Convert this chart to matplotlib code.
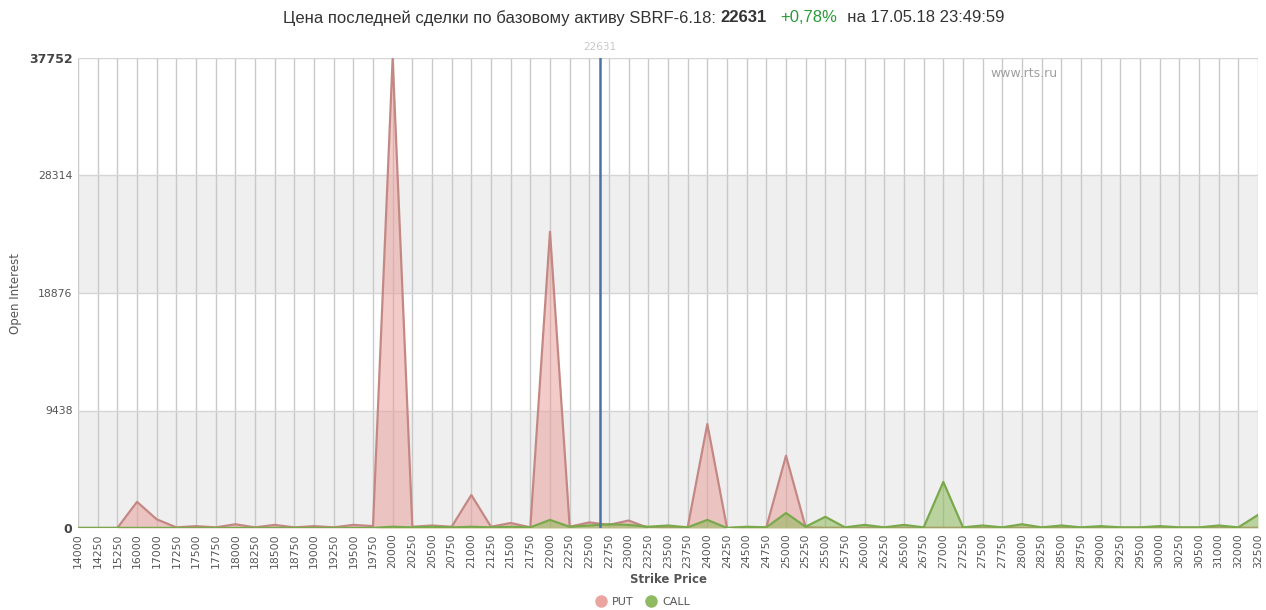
import numpy as np
import matplotlib.pyplot as plt
from matplotlib.lines import Line2D

# strike prices (categories) and open interest
strikes = ['14000', '14250', '15250', '16000', '17000', '17250', '17500', '17750', '18000', '18250',
           '18500', '18750', '19000', '19250', '19500', '19750', '20000', '20250', '20500', '20750',
           '21000', '21250', '21500', '21750', '22000', '22250', '22500', '22750', '23000', '23250',
           '23500', '23750', '24000', '24250', '24500', '24750', '25000', '25250', '25500', '25750',
           '26000', '26250', '26500', '26750', '27000', '27250', '27500', '27750', '28000', '28250',
           '28500', '28750', '29000', '29250', '29500', '30000', '30250', '30500', '31000', '32000',
           '32500']

put_oi = [0, 0, 0, 2100, 700, 50, 150, 50, 300, 50,
          250, 50, 150, 50, 250, 150, 37752, 100, 200, 100,
          2650, 100, 400, 50, 23800, 100, 450, 250, 600, 0,
          50, 50, 8350, 0, 50, 50, 5800, 50, 20, 20,
          20, 20, 20, 20, 20, 20, 20, 20, 20, 20,
          20, 20, 20, 20, 20, 20, 20, 20, 20, 20,
          20]

call_oi = [10, 10, 10, 10, 10, 10, 10, 10, 10, 10,
           10, 10, 10, 10, 10, 10, 100, 50, 100, 50,
           100, 50, 100, 50, 650, 100, 200, 300, 250, 100,
           200, 50, 650, 0, 100, 50, 1200, 100, 900, 50,
           250, 50, 250, 50, 3700, 50, 200, 50, 300, 50,
           200, 50, 150, 50, 50, 150, 50, 50, 200, 50,
           1050]

y_ticks = [0, 9438, 18876, 28314, 37752]
last_price = 22631
price_strike_lo, price_strike_hi = '22500', '22750'

W, H = 1266, 610
fig = plt.figure(figsize=(W / 100, H / 100), dpi=100)
ax = fig.add_axes([78 / W, 1 - 528 / H, (1258 - 78) / W, (528 - 58) / H])

x = np.arange(len(strikes))
ymax = y_ticks[-1]

# alternating bands
for i in range(len(y_ticks) - 1):
    if i % 2 == 0:
        ax.axhspan(y_ticks[i], y_ticks[i + 1], color='#efefef', zorder=0, lw=0)

# grid
for xi in x:
    ax.axvline(xi, color='#c9c9c9', lw=1.0, zorder=1)
for yt in y_ticks:
    ax.axhline(yt, color='#d5d5d5', lw=1.0, zorder=1)

# areas
ax.fill_between(x, put_oi, color='#e99a95', alpha=0.5, lw=0, zorder=2)
ax.plot(x, put_oi, color='#c48884', lw=1.6, zorder=3)
ax.fill_between(x, call_oi, color='#86b84e', alpha=0.5, lw=0, zorder=4)
ax.plot(x, call_oi, color='#7aa94c', lw=1.6, zorder=5)

# last price marker line
i_lo = strikes.index(price_strike_lo)
frac = (last_price - int(price_strike_lo)) / (int(price_strike_hi) - int(price_strike_lo))
xp = i_lo + frac
ax.axvline(xp, color='#4a72a8', lw=1.8, zorder=6)
ax.text(xp, ymax * 1.012, str(last_price), color='#c8c8c8', fontsize=7.5,
        ha='center', va='bottom', family='DejaVu Sans')

ax.set_xlim(0, len(strikes) - 1)
ax.set_ylim(0, ymax)
for s in ax.spines.values():
    s.set_visible(False)

ax.set_xticks(x)
ax.set_xticklabels(strikes, rotation=90, fontsize=7.8, color='#555555')
ax.set_yticks(y_ticks)
ax.set_yticklabels([str(v) for v in y_ticks], fontsize=7.8, color='#555555')
for lbl in (ax.get_yticklabels()[0], ax.get_yticklabels()[-1]):
    lbl.set_fontweight('bold')
    lbl.set_fontsize(9)
    lbl.set_color('#444444')
ax.tick_params(axis='both', length=0, pad=4)

ax.set_xlabel('Strike Price', fontsize=8.5, fontweight='bold', color='#555555', labelpad=3)
ax.set_ylabel('Open Interest', fontsize=8.5, color='#555555')
ax.yaxis.set_label_coords((22 - 78) / (1258 - 78), 0.5)

ax.text((1058 - 78) / (1258 - 78), 0.98, 'www.rts.ru', transform=ax.transAxes, fontsize=9,
        color='#a0a0a0', ha='right', va='top')

# legend
handles = [Line2D([], [], marker='o', ls='', color='#eba5a0', markersize=8),
           Line2D([], [], marker='o', ls='', color='#8fba62', markersize=8)]
fig.legend(handles, ['PUT', 'CALL'], loc='center', bbox_to_anchor=(640 / W, 1 - 602 / H),
           ncol=2, frameon=False, fontsize=8, handletextpad=0.0, columnspacing=0.6,
           labelcolor='#555555')

# title composed of pieces
pieces = [('Цена последней сделки по базовому активу SBRF-6.18: ', '#333333', 'normal'),
          ('22631', '#333333', 'bold'),
          ('   ', '#333333', 'normal'),
          ('+0,78%', '#2a9a3a', 'normal'),
          ('  на 17.05.18 23:49:59', '#333333', 'normal')]
renderer = fig.canvas.get_renderer()
xpos = 283
for txt, col, wt in pieces:
    t = fig.text(xpos / W, 1 - 18 / H, txt, color=col, fontweight=wt, fontsize=12,
                 family='Liberation Sans', ha='left', va='center')
    bb = t.get_window_extent(renderer=renderer)
    xpos += bb.width

fig.savefig('out.png', dpi=100)
